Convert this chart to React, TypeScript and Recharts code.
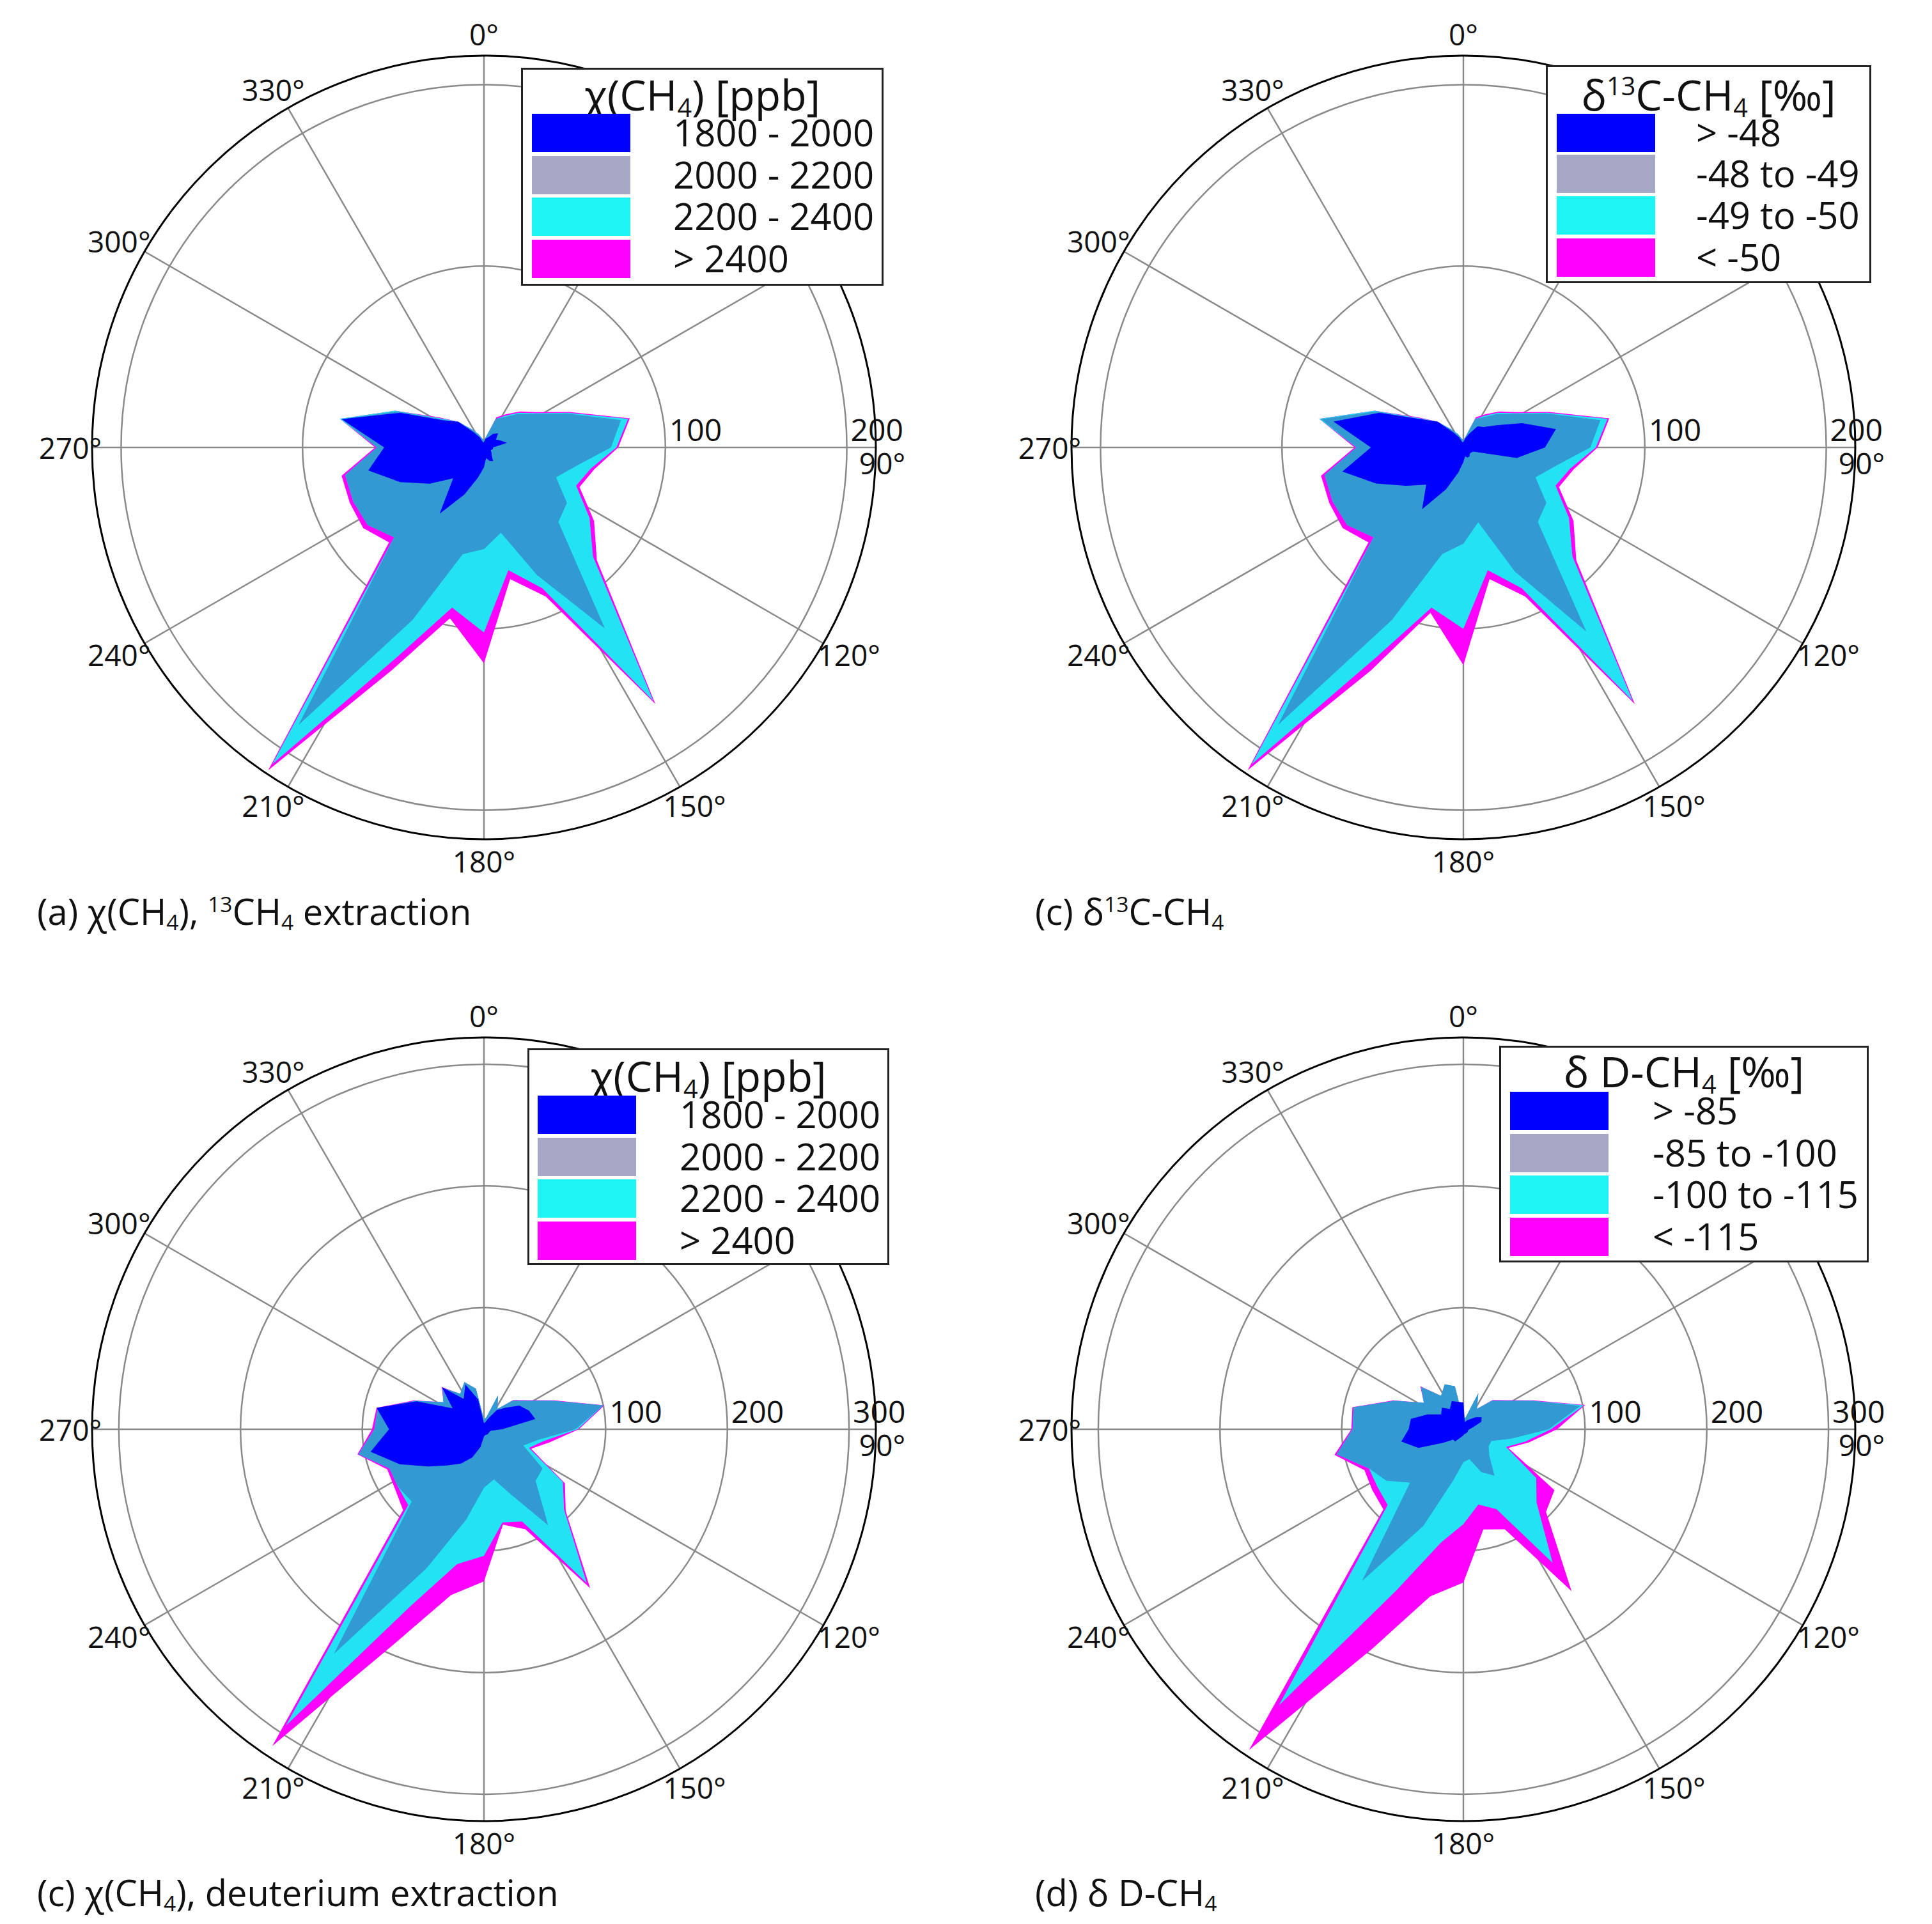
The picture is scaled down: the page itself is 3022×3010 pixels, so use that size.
import React from 'react';
import { RadarChart, Radar, PolarGrid, PolarAngleAxis, PolarRadiusAxis } from 'recharts';

// 32 wind sectors of 11.25°
const SECTORS = [0, 11.25, 22.5, 33.75, 45, 56.25, 67.5, 78.75, 90, 101.25, 112.5, 123.75, 135, 146.25, 157.5, 168.75,
    180, 191.25, 202.5, 213.75, 225, 236.25, 247.5, 258.75, 270, 281.25, 292.5, 303.75, 315, 326.25, 337.5, 348.75];
const ANGLE_TICKS = [0, 30, 60, 90, 120, 150, 180, 210, 240, 270, 300, 330];

// cumulative radii (outer edge of each class band)
// (a) chi(CH4), 13CH4 extraction
const A_BLUE = [3, 5, 6, 9, 11, 8, 10, 13, 5, 5, 4, 5, 6, 9, 8, 6, 11, 17, 28, 44, 24, 36, 50, 65, 55, 80, 50, 27, 20, 10, 6, 3];
const A_MID = [4, 6, 17, 20, 26, 33, 49, 77, 70, 52, 43, 55, 58, 120, 76, 48, 56, 60, 103, 184, 70, 77, 78, 78, 59, 80, 52, 28, 19, 12, 8, 5];
const A_CYAN = [4, 6, 17, 21, 27, 34, 50, 81, 73, 60, 55, 70, 85, 168, 84, 69, 102, 90, 125, 210, 70, 77, 78, 78, 59, 81, 53, 29, 20, 12, 8, 5];
const A_MAG = [4, 6, 18, 22, 28, 35, 51, 82, 74, 62, 57, 73, 88, 170, 89, 74, 119, 96, 133, 214, 74, 80, 80, 80, 60, 81, 53, 30, 20, 12, 8, 5];

// (c) d13C-CH4
const C_BLUE = [3, 5, 8, 14, 16, 22, 35, 52, 45, 30, 6, 5, 5, 6, 6, 5, 8, 14, 25, 41, 29, 38, 52, 68, 51, 73, 50, 28, 20, 10, 6, 3];
const C_MID = [4, 6, 17, 20, 26, 33, 49, 77, 70, 52, 43, 55, 58, 122, 74, 42, 53, 60, 103, 184, 70, 77, 78, 78, 59, 80, 52, 28, 19, 12, 8, 5];
const C_CYAN = [4, 6, 17, 21, 27, 34, 50, 81, 73, 60, 55, 70, 85, 168, 84, 69, 100, 90, 125, 210, 70, 77, 78, 78, 59, 81, 53, 29, 20, 12, 8, 5];
const C_MAG = [4, 6, 18, 22, 28, 35, 51, 82, 74, 62, 57, 73, 88, 170, 89, 74, 120, 93, 133, 214, 74, 80, 80, 80, 60, 81, 53, 30, 20, 12, 8, 5];

// (c) chi(CH4), deuterium extraction
const B_BLUE = [5, 6, 10, 19, 25, 35, 40, 43, 15, 6, 5, 5, 5, 5, 5, 5, 6, 15, 25, 34, 42, 55, 75, 95, 78, 90, 60, 31, 49, 30, 40, 25];
const B_MID = [8, 10, 30, 20, 33, 42, 61, 100, 75, 45, 35, 58, 60, 95, 58, 42, 48, 76, 124, 222, 84, 85, 84, 105, 90, 89, 61, 40, 48, 35, 42, 34];
const B_CYAN = [8, 10, 30, 20, 33, 42, 61, 100, 77, 50, 40, 78, 93, 152, 82, 78, 104, 113, 157, 293, 88, 85, 84, 105, 90, 89, 61, 40, 48, 35, 42, 34];
const B_MAG = [8, 10, 30, 20, 34, 43, 62, 101, 78, 55, 42, 80, 95, 157, 89, 80, 125, 139, 190, 313, 94, 88, 86, 106, 92, 90, 62, 40, 49, 35, 42, 34];

// (d) dD-CH4
const D_BLUE = [22, 6, 8, 10, 14, 18, 16, 8, 5, 4, 4, 4, 4, 4, 4, 4, 5, 6, 8, 12, 12, 20, 40, 52, 45, 44, 32, 22, 25, 20, 25, 23];
const D_MID = [8, 10, 32, 20, 33, 42, 61, 98, 70, 40, 25, 25, 30, 46, 38, 25, 27, 43, 86, 150, 62, 76, 84, 106, 91, 92, 61, 39, 49, 33, 40, 36];
const D_CYAN = [8, 10, 32, 20, 33, 42, 61, 101, 72, 52, 38, 72, 85, 132, 71, 63, 78, 95, 143, 273, 88, 85, 84, 106, 91, 92, 61, 39, 49, 33, 40, 36];
const D_MAG = [8, 10, 32, 20, 34, 43, 62, 102, 77, 55, 40, 90, 96, 160, 89, 84, 126, 140, 195, 317, 93, 90, 88, 108, 92, 93, 62, 39, 50, 33, 40, 36];

const COLORS = ['#0000ff', '#3399d3', '#22e2f4', '#ff00ff'];
const SWATCH = ['#0000ff', '#a7a7c6', '#1ef4f4', '#ff00ff'];
const FONT = '"Open Sans", sans-serif';

const R = 613;
const SIZE = 1400;

const makeRows = (blue: number[], mid: number[], cyan: number[], mag: number[]) =>
    SECTORS.map((angle, i) => ({ angle, blue: blue[i], mid: mid[i], cyan: cyan[i], mag: mag[i] }));

const AngleTick = (props: any) => {
    const { payload } = props;
    const v = payload.value;
    const cx = SIZE / 2, cy = SIZE / 2;
    const rad = (v * Math.PI) / 180;
    let x = cx + (R + 46) * Math.sin(rad);
    let y = cy - (R + 34) * Math.cos(rad);
    if (v === 90) { x = cx + R + 10; y = cy + 24; }
    if (v === 270) { x = cx - R - 34; }
    return (
        <text x={x} y={y} textAnchor="middle" dominantBaseline="central" fontSize={46} fontFamily={FONT} fill="#111">
            {v}°
        </text>
    );
};

const RadiusTick = (props: any) => (
    <text x={props.x + 6} y={props.y - 10} textAnchor="start" fontSize={48} fontFamily={FONT} fill="#111">
        {props.payload.value}
    </text>
);

interface RoseProps {
    left: number;
    top: number;
    rows: any[];
    max: number;
    rings: number[];
}

const Rose: React.FC<RoseProps> = ({ left, top, rows, max, rings }) => (
    <div style={{ position: 'absolute', left, top }}>
        <RadarChart width={SIZE} height={SIZE} data={rows} cx={SIZE / 2} cy={SIZE / 2} outerRadius={R} startAngle={90} endAngle={-270}>
            <PolarGrid
                gridType="circle"
                stroke="#8a8a8a"
                strokeWidth={2.5}
                polarAngles={ANGLE_TICKS.map((a) => 90 - a)}
                polarRadius={rings.map((t) => (R * t) / max)}
            />
            <PolarAngleAxis
                dataKey="angle"
                type="number"
                domain={[0, 360]}
                ticks={ANGLE_TICKS as any}
                tick={<AngleTick />}
                tickLine={false}
                axisLineType="circle"
                axisLine={{ stroke: '#000', strokeWidth: 3 }}
            />
            <PolarRadiusAxis angle={0} domain={[0, max]} ticks={rings as any} tick={<RadiusTick />} axisLine={false} tickLine={false} />
            <Radar dataKey="mag" fill={COLORS[3]} fillOpacity={1} stroke="none" isAnimationActive={false} />
            <Radar dataKey="cyan" fill={COLORS[2]} fillOpacity={1} stroke="none" isAnimationActive={false} />
            <Radar dataKey="mid" fill={COLORS[1]} fillOpacity={1} stroke="none" isAnimationActive={false} />
            <Radar dataKey="blue" fill={COLORS[0]} fillOpacity={1} stroke="none" isAnimationActive={false} />
        </RadarChart>
    </div>
);

interface LegendProps {
    left: number;
    top: number;
    width: number;
    height: number;
    title: React.ReactNode;
    labels: string[];
    rowYs: number[];
    titleY: number;
    swX: number;
    textX: number;
}

const LegendBox: React.FC<LegendProps> = ({ left, top, width, height, title, labels, rowYs, titleY, swX, textX }) => (
    <div style={{ position: 'absolute', left, top, width, height, border: '3px solid #222', background: '#fff', boxSizing: 'border-box', fontFamily: FONT, color: '#111' }}>
        <div style={{ position: 'absolute', left: 0, width: '100%', top: titleY - top - 34, textAlign: 'center', fontSize: 66, lineHeight: '66px', whiteSpace: 'nowrap' }}>
            {title}
        </div>
        {labels.map((l, i) => (
            <React.Fragment key={l}>
                <div style={{ position: 'absolute', left: swX - left, top: rowYs[i] - top - 31, width: 154, height: 60, background: SWATCH[i] }} />
                <div style={{ position: 'absolute', left: textX - left, top: rowYs[i] - top - 32, fontSize: 58, lineHeight: '60px', whiteSpace: 'nowrap' }}>{l}</div>
            </React.Fragment>
        ))}
    </div>
);

const sub: React.CSSProperties = { fontSize: '0.6em', lineHeight: 0, verticalAlign: '-0.25em' };
const sup: React.CSSProperties = { fontSize: '0.6em', lineHeight: 0, verticalAlign: '0.6em' };

const chiTitle = <span>χ(CH<span style={sub}>4</span>) [ppb]</span>;
const d13Title = <span>δ<span style={sup}>13</span>C-CH<span style={sub}>4</span> [‰]</span>;
const dDTitle = <span>δ D-CH<span style={sub}>4</span> [‰]</span>;

const CHI_LABELS = ['1800 - 2000', '2000 - 2200', '2200 - 2400', '> 2400'];
const D13_LABELS = ['> -48', '-48 to -49', '-49 to -50', '< -50'];
const DD_LABELS = ['> -85', '-85 to -100', '-100 to -115', '< -115'];

const capStyle: React.CSSProperties = { position: 'absolute', fontFamily: FONT, fontSize: 56, lineHeight: '60px', whiteSpace: 'nowrap', color: '#111' };

export default function App() {
    return (
        <div style={{ position: 'absolute', left: 0, top: 0, width: 3022, height: 3010, background: '#fff', overflow: 'hidden' }}>
            <Rose left={757 - SIZE / 2} top={700 - SIZE / 2} rows={makeRows(A_BLUE, A_MID, A_CYAN, A_MAG)} max={216} rings={[100, 200]} />
            <Rose left={2289 - SIZE / 2} top={700 - SIZE / 2} rows={makeRows(C_BLUE, C_MID, C_CYAN, C_MAG)} max={216} rings={[100, 200]} />
            <Rose left={757 - SIZE / 2} top={2236 - SIZE / 2} rows={makeRows(B_BLUE, B_MID, B_CYAN, B_MAG)} max={322} rings={[100, 200, 300]} />
            <Rose left={2289 - SIZE / 2} top={2236 - SIZE / 2} rows={makeRows(D_BLUE, D_MID, D_CYAN, D_MAG)} max={322} rings={[100, 200, 300]} />

            <LegendBox left={815} top={106} width={567} height={341} title={chiTitle} labels={CHI_LABELS} titleY={145} rowYs={[206, 272, 337, 403]} swX={829} textX={1050} />
            <LegendBox left={2418} top={102} width={509} height={341} title={d13Title} labels={D13_LABELS} titleY={145} rowYs={[206, 270, 335, 401]} swX={2432} textX={2650} />
            <LegendBox left={825} top={1640} width={566} height={339} title={chiTitle} labels={CHI_LABELS} titleY={1680} rowYs={[1742, 1808, 1873, 1939]} swX={838} textX={1060} />
            <LegendBox left={2345} top={1636} width={578} height={339} title={dDTitle} labels={DD_LABELS} titleY={1673} rowYs={[1736, 1802, 1867, 1933]} swX={2359} textX={2582} />

            <div style={{ ...capStyle, left: 58, top: 1395 }}>(a) χ(CH<span style={sub}>4</span>), <span style={sup}>13</span>CH<span style={sub}>4</span> extraction</div>
            <div style={{ ...capStyle, left: 1619, top: 1395 }}>(c) δ<span style={sup}>13</span>C-CH<span style={sub}>4</span></div>
            <div style={{ ...capStyle, left: 58, top: 2930 }}>(c) χ(CH<span style={sub}>4</span>), deuterium extraction</div>
            <div style={{ ...capStyle, left: 1619, top: 2930 }}>(d) δ D-CH<span style={sub}>4</span></div>
        </div>
    );
}
